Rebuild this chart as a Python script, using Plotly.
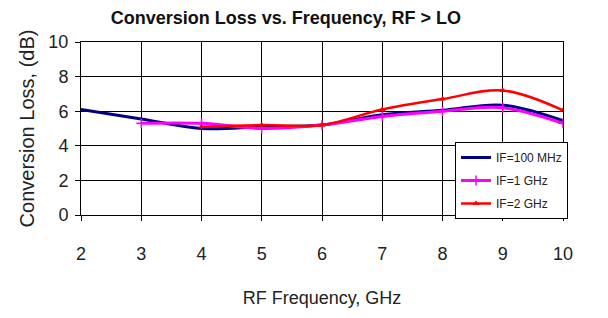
import plotly.graph_objects as go

freq_all = [2, 3, 4, 5, 6, 7, 8, 9, 10]
loss_100mhz = [6.1, 5.55, 5.0, 5.1, 5.2, 5.8, 6.05, 6.35, 5.45]
freq_1ghz = [3, 4, 5, 6, 7, 8, 9, 10]
loss_1ghz = [5.3, 5.3, 5.0, 5.2, 5.7, 6.0, 6.2, 5.3]
freq_2ghz = [4, 5, 6, 7, 8, 9, 10]
loss_2ghz = [5.1, 5.2, 5.2, 6.1, 6.7, 7.2, 6.05]

x_ticks = [2, 3, 4, 5, 6, 7, 8, 9, 10]
y_ticks = [0, 2, 4, 6, 8, 10]

FONT = "Liberation Sans, Arial, sans-serif"

fig = go.Figure()
fig.add_trace(go.Scatter(x=freq_all, y=loss_100mhz, mode="lines", name="IF=100 MHz",
                         legendgroup="a",
                         line=dict(color="#000080", width=3, shape="spline")))
fig.add_trace(go.Scatter(x=freq_1ghz, y=loss_1ghz, mode="lines+markers", name="IF=1 GHz",
                         legendgroup="b",
                         line=dict(color="#ff00ff", width=3, shape="spline"),
                         marker=dict(symbol="cross-thin", size=7, line=dict(color="#ff00ff", width=1.5))))
fig.add_trace(go.Scatter(x=freq_2ghz, y=loss_2ghz, mode="lines+markers", name="IF=2 GHz",
                         legendgroup="c",
                         line=dict(color="#ff0000", width=2.5, shape="spline"),
                         marker=dict(symbol="triangle-up", size=6, color="#ff0000")))

fig.update_layout(
    width=600, height=310,
    margin=dict(l=73, r=45, t=34, b=103, autoexpand=False),
    paper_bgcolor="white", plot_bgcolor="white",
    font=dict(family=FONT, color="#222222"),
    title=dict(text="<b>Conversion Loss vs. Frequency, RF > LO</b>", x=0.463, xanchor="center",
               y=0.968, yanchor="middle", font=dict(size=18, family=FONT, color="#111111")),
    showlegend=True,
    legend=dict(x=0.776, y=0.422, xanchor="left", yanchor="top",
                bgcolor="white", bordercolor="black", borderwidth=1,
                font=dict(size=12, family=FONT, color="#222222"),
                itemwidth=30, tracegroupgap=4),
)
fig.update_xaxes(range=[2, 10], tickvals=x_ticks, showgrid=True, gridcolor="black", gridwidth=1,
                 showline=True, linecolor="black", linewidth=1, mirror=True, automargin=False,
                 ticks="outside", ticklen=5, tickcolor="black",
                 tickfont=dict(size=18, family=FONT), ticklabelstandoff=17,
                 title=dict(text="RF Frequency, GHz", font=dict(size=18, family=FONT), standoff=28),
                 zeroline=False)
fig.update_yaxes(range=[0, 10], tickvals=y_ticks, showgrid=True, gridcolor="black", gridwidth=1,
                 showline=True, linecolor="black", linewidth=1, mirror=True, automargin=False,
                 ticks="outside", ticklen=5, tickcolor="black",
                 tickfont=dict(size=18, family=FONT), ticklabelstandoff=3,
                 title=dict(text="Conversion Loss, (dB)", font=dict(size=20, family=FONT), standoff=8),
                 zeroline=False)

fig.write_html("out.html")
